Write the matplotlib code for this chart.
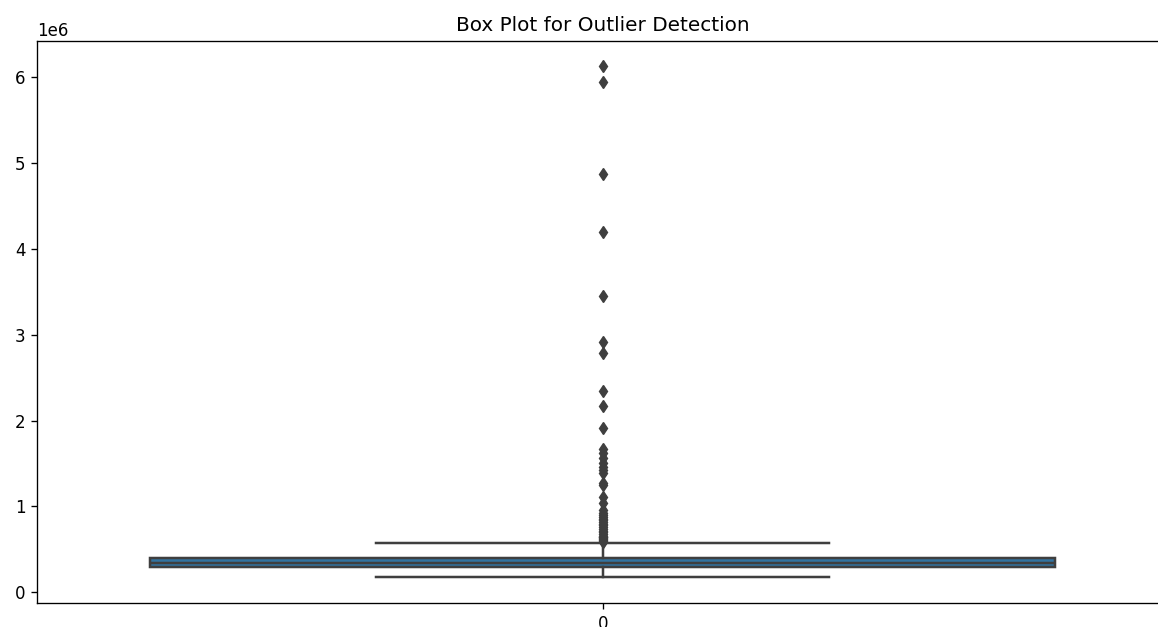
import matplotlib
matplotlib.use("Agg")
import matplotlib.pyplot as plt

# box statistics (values in units, axis shows 1e6)
q1 = 290000
median = 345000
q3 = 405000
whisker_low = 175000
whisker_high = 575000
fliers = [6130000, 5940000, 4870000, 4200000, 3450000, 2920000, 2790000,
          2340000, 2170000, 1920000, 1670000, 1620000, 1560000, 1510000,
          1460000, 1420000, 1390000, 1270000, 1250000, 1110000, 1040000,
          960000, 930000, 900000, 880000, 860000, 840000, 820000, 800000,
          780000, 760000, 740000, 720000, 700000, 680000, 660000, 650000,
          640000, 630000, 620000, 610000, 600000, 590000]
tick_labels = ["0"]

stats = [dict(med=median, q1=q1, q3=q3, whislo=whisker_low,
              whishi=whisker_high, fliers=fliers, label=tick_labels[0])]

# the reference looks like a slightly enlarged render, scale everything ~1.2x
s = 1.2
plt.rcParams.update({
    "font.size": 10 * s,
    "axes.titlesize": 12 * s,
    "axes.titlepad": 6 * s,
    "axes.linewidth": 0.8 * s,
    "xtick.major.size": 3.5 * s,
    "ytick.major.size": 3.5 * s,
    "xtick.major.width": 0.8 * s,
    "ytick.major.width": 0.8 * s,
    "xtick.major.pad": 3.5 * s,
    "ytick.major.pad": 3.5 * s,
})

fig = plt.figure(figsize=(11.58, 6.27), dpi=100)
ax = fig.add_axes([0.032, 0.0385, 0.977, 0.8967])

gray = "#3f3f3f"
lw = 1.5 * s
ax.bxp(stats, positions=[0], widths=0.8, patch_artist=True,
       boxprops=dict(facecolor="#3274a1", edgecolor=gray, linewidth=lw),
       medianprops=dict(color=gray, linewidth=lw),
       whiskerprops=dict(color=gray, linewidth=lw),
       capprops=dict(color=gray, linewidth=lw),
       flierprops=dict(marker="d", markerfacecolor=gray, markeredgecolor=gray,
                       markersize=5 * s, linestyle="none"),
       capwidths=0.4)

ax.set_xlim(-0.5, 0.5)
ax.set_title("Box Plot for Outlier Detection")

fig.savefig("out.png", dpi=100)
